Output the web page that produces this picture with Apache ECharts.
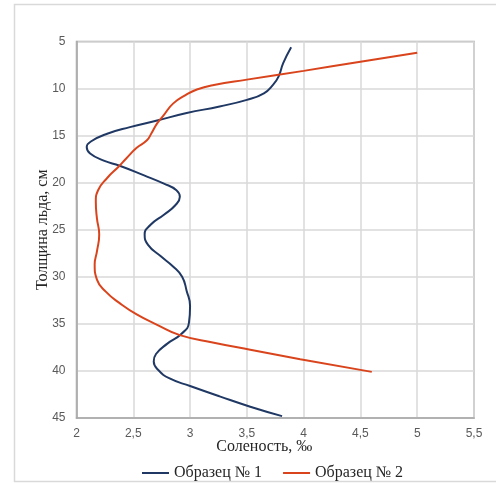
<!DOCTYPE html>
<html>
<head>
<meta charset="utf-8">
<script src="https://cdn.jsdelivr.net/npm/echarts@6/dist/echarts.min.js"></script>
<style>
  html, body { margin: 0; padding: 0; background: #ffffff; }
  #chart { width: 496px; height: 483px; }
</style>
</head>
<body>
<div id="chart"></div>
<script>
// Salinity (‰) vs ice depth (cm) for two ice cores
const seriesNames = ['Образец № 1', 'Образец № 2'];

const sample1Salinity = [3.89, 3.82, 3.78, 3.73, 3.65, 3.50, 3.26, 2.97, 2.71, 2.47, 2.27, 2.13, 2.09, 2.12, 2.24, 2.38,
                         2.59, 2.77, 2.88, 2.91, 2.87, 2.77, 2.65, 2.60, 2.63, 2.74, 2.85, 2.93, 2.97,
                         3.00, 2.99, 2.92, 2.80, 2.70, 2.68, 2.72, 2.82, 3.00, 3.26, 3.53, 3.81];
const sample1Depth    = [5.6, 7.3, 8.7, 9.6, 10.5, 11.2, 11.9, 12.6, 13.4, 14.1, 14.8, 15.6, 16.2, 16.9, 17.65, 18.2,
                         19.2, 20.1, 20.8, 21.5, 22.4, 23.4, 24.5, 25.5, 26.6, 27.8, 28.9, 30.0, 31.5,
                         33.1, 34.9, 36.1, 37.1, 38.2, 39.0, 39.9, 40.8, 41.6, 42.7, 43.8, 44.8];

const sample2Salinity = [5.0, 4.5, 4.0, 3.5, 3.21, 3.06, 2.96, 2.85, 2.77, 2.71, 2.66, 2.62, 2.53, 2.44, 2.37,
                         2.27, 2.19, 2.17, 2.18, 2.20, 2.18, 2.16, 2.18, 2.26,
                         2.38, 2.53, 2.71, 2.91, 3.21, 3.53, 3.97, 4.6];
const sample2Depth    = [6.2, 7.15, 8.12, 9.05, 9.62, 10.1, 10.7, 11.6, 12.8, 13.7, 14.75, 15.5, 16.3, 17.4, 18.3,
                         19.5, 20.8, 22.0, 23.8, 25.5, 27.3, 28.7, 30.3, 31.6,
                         32.8, 34.0, 35.1, 36.2, 37.0, 37.75, 38.75, 40.1];

const salinityTicks = { min: 2, max: 5.5, step: 0.5 };
const depthTicks = { min: 5, max: 45, step: 5 };

const xTitle = 'Соленость, ‰';
const yTitle = 'Толщина льда, см';

const pairs = (xs, ys) => xs.map((x, i) => [x, ys[i]]);

const chart = echarts.init(document.getElementById('chart'));

const labelStyle = { color: '#595959', fontFamily: 'Liberation Sans', fontSize: 12 };
const gridLine = { lineStyle: { color: '#d9d9d9', width: 1.5 } };
const frameLine = { lineStyle: { color: '#a6a6a6', width: 1.5 } };
const titleStyle = { fontFamily: 'Liberation Serif', fontSize: 16, color: '#262626' };

chart.setOption({
  animation: false,
  backgroundColor: '#ffffff',
  graphic: [{
    type: 'rect',
    shape: { x: 14.5, y: 4.5, width: 490, height: 477 },
    style: { fill: 'none', stroke: '#d9d9d9', lineWidth: 1.5 },
    silent: true
  }],
  grid: { left: 76.5, right: 22, top: 41.5, bottom: 65, show: true, borderColor: '#a6a6a6', borderWidth: 1.5 },
  legend: {
    top: 460,
    left: 137,
    itemWidth: 27,
    itemHeight: 2,
    itemGap: 21,
    icon: 'rect',
    textStyle: titleStyle,
    data: seriesNames
  },
  xAxis: {
    type: 'value',
    min: salinityTicks.min,
    max: salinityTicks.max,
    interval: salinityTicks.step,
    name: xTitle,
    nameLocation: 'middle',
    nameGap: 21,
    nameMoveOverlap: false,
    nameTextStyle: Object.assign({ padding: [0, 22, 0, 0] }, titleStyle),
    axisLine: frameLine,
    axisTick: { show: false },
    splitLine: gridLine,
    axisLabel: Object.assign({ margin: 10, formatter: v => String(v).replace('.', ',') }, labelStyle)
  },
  yAxis: {
    type: 'value',
    inverse: true,
    min: depthTicks.min,
    max: depthTicks.max,
    interval: depthTicks.step,
    name: yTitle,
    nameLocation: 'middle',
    nameGap: 26,
    nameMoveOverlap: false,
    nameRotate: 90,
    nameTextStyle: titleStyle,
    axisLine: { show: true, lineStyle: { color: '#a6a6a6', width: 1.5 } },
    axisTick: { show: false },
    splitLine: gridLine,
    axisLabel: Object.assign({ margin: 11 }, labelStyle)
  },
  series: [
    {
      name: seriesNames[0],
      type: 'line',
      smooth: 0.5,
      showSymbol: false,
      lineStyle: { color: '#203864', width: 2 },
      itemStyle: { color: '#203864' },
      data: pairs(sample1Salinity, sample1Depth)
    },
    {
      name: seriesNames[1],
      type: 'line',
      smooth: 0.5,
      showSymbol: false,
      lineStyle: { color: '#d9441c', width: 2 },
      itemStyle: { color: '#d9441c' },
      data: pairs(sample2Salinity, sample2Depth)
    }
  ]
});
</script>
</body>
</html>
